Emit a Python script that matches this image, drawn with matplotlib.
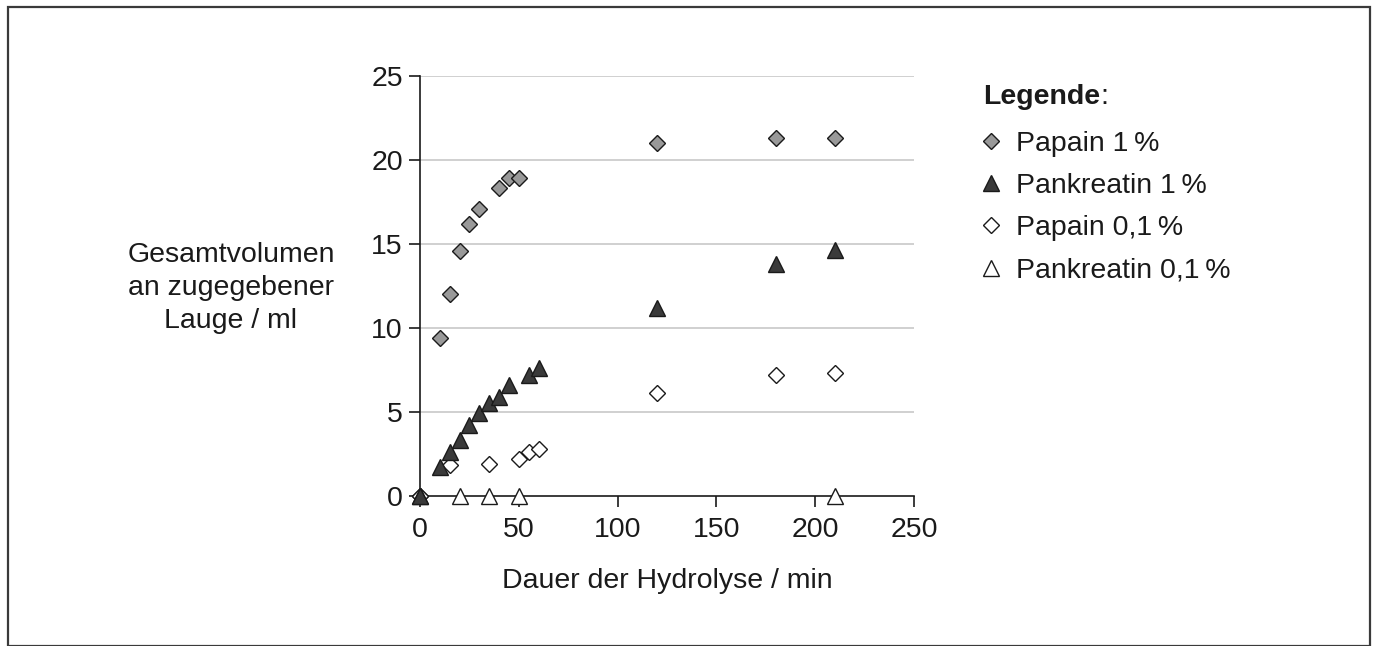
import matplotlib
matplotlib.use("Agg")
import matplotlib.pyplot as plt
from matplotlib.patches import Rectangle

plt.rcParams['font.family'] = ['Liberation Sans', 'DejaVu Sans']

# Data
pap1_x = [0, 10, 15, 20, 25, 30, 40, 45, 50, 120, 180, 210]
pap1_y = [0, 9.4, 12.0, 14.6, 16.2, 17.1, 18.3, 18.9, 18.9, 21.0, 21.3, 21.3]

pank1_x = [0, 10, 15, 20, 25, 30, 35, 40, 45, 55, 60, 120, 180, 210]
pank1_y = [0, 1.7, 2.6, 3.3, 4.2, 4.9, 5.5, 5.85, 6.6, 7.2, 7.6, 11.2, 13.8, 14.65]

pap01_x = [0, 15, 35, 50, 55, 60, 120, 180, 210]
pap01_y = [0, 1.8, 1.9, 2.2, 2.6, 2.8, 6.1, 7.2, 7.3]

pank01_x = [0, 20, 35, 50, 210]
pank01_y = [0, 0, 0, 0, 0]

labels = ["Papain 1\u2009%", "Pankreatin 1\u2009%", "Papain 0,1\u2009%", "Pankreatin 0,1\u2009%"]
ylabel_lines = ["Gesamtvolumen", "an zugegebener", "Lauge / ml"]
xticks = [0, 50, 100, 150, 200, 250]
yticks = [0, 5, 10, 15, 20, 25]

FS = 20.5
TXT = '#1a1a1a'
W, H = 1377, 646
fig = plt.figure(figsize=(W / 100, H / 100), dpi=100)
ax = fig.add_axes([420 / W, 1 - 495.5 / H, (914 - 420) / W, (495.5 - 76) / H])

fig.patches.append(Rectangle((8 / W, 0.5 / H), (1370 - 8) / W, (639 - 0.5) / H, transform=fig.transFigure,
                             fill=False, edgecolor='#3a3a3a', linewidth=1.6))

ax.set_xlim(0, 250)
ax.set_ylim(0, 25)
for y in yticks[1:]:
    ax.axhline(y, color='#c8c8c8', linewidth=1.2, zorder=0)

ms_d = 8.2
ms_t = 11.5
h1, = ax.plot(pap1_x, pap1_y, 'D', ms=ms_d, mfc='#999999', mec=TXT, mew=1.0, clip_on=False, zorder=3)
h2, = ax.plot(pank1_x, pank1_y, '^', ms=ms_t, mfc='#3a3a3a', mec=TXT, mew=1.0, clip_on=False, zorder=4)
h3, = ax.plot(pap01_x, pap01_y, 'D', ms=ms_d, mfc='white', mec=TXT, mew=1.0, clip_on=False, zorder=3)
h4, = ax.plot(pank01_x, pank01_y, '^', ms=ms_t, mfc='white', mec=TXT, mew=1.0, clip_on=False, zorder=3)

for s in ['top', 'right']:
    ax.spines[s].set_visible(False)
for s in ['left', 'bottom']:
    ax.spines[s].set_color(TXT)
    ax.spines[s].set_linewidth(1.2)

ax.set_xticks(xticks)
ax.set_yticks(yticks)
ax.tick_params(axis='both', direction='out', length=8, width=1.2, color=TXT,
               labelsize=FS, labelcolor=TXT)
ax.tick_params(axis='x', pad=7.5)
ax.tick_params(axis='y', pad=4.3)

ax.set_xlabel("Dauer der Hydrolyse / min", fontsize=FS, color=TXT, labelpad=18)
for i, line in enumerate(ylabel_lines):
    fig.text(231 / W, 1 - (255 + 33 * i) / H, line, ha='center', va='center', fontsize=FS, color=TXT)

t1 = fig.text(983 / W, 1 - 97 / H, "Legende", fontsize=FS, fontweight='bold', color=TXT, va='center', ha='left')
fig.canvas.draw()
bb = t1.get_window_extent()
fig.text(bb.x1 / W, 1 - 97 / H, ":", fontsize=FS, color=TXT, va='center', ha='left')

leg = fig.legend([h1, h2, h3, h4], labels, loc='upper left', bbox_to_anchor=(982 / W, 1 - 131 / H),
                 frameon=False, fontsize=FS, handlelength=0.6, handletextpad=0.6,
                 labelspacing=0.57, borderaxespad=0, borderpad=0, markerscale=0.95)
for t in leg.get_texts():
    t.set_color(TXT)

fig.savefig("out.png", dpi=100)
